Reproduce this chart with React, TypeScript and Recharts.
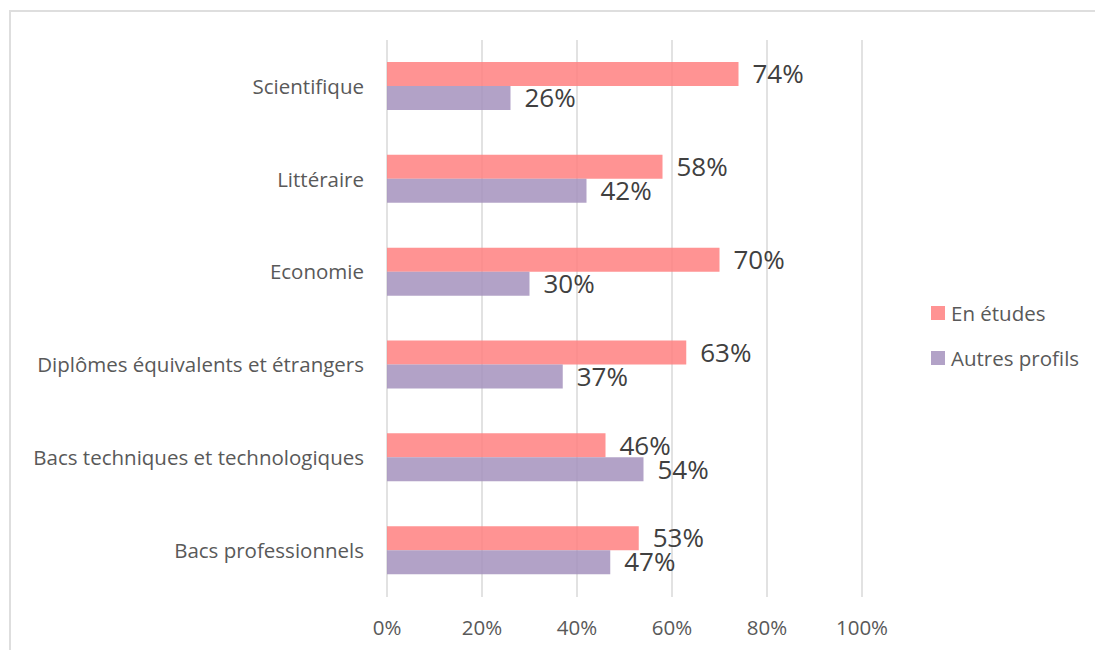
import { Bar, BarChart, CartesianGrid, LabelList, XAxis, YAxis } from "recharts";

const categories = [
  "Scientifique",
  "Littéraire",
  "Economie",
  "Diplômes équivalents et étrangers",
  "Bacs techniques et technologiques",
  "Bacs professionnels",
];
const enEtudes = [0.74, 0.58, 0.7, 0.63, 0.46, 0.53];
const autresProfils = [0.26, 0.42, 0.3, 0.37, 0.54, 0.47];
const xTicks = [0, 0.2, 0.4, 0.6, 0.8, 1];

const series = [
  { key: "enEtudes", label: "En études", color: "#FF8080", swatch: "#FF9393" },
  { key: "autresProfils", label: "Autres profils", color: "#A492BD", swatch: "#B2A2C7" },
];

const data = categories.map((name, i) => ({
  name,
  enEtudes: enEtudes[i],
  autresProfils: autresProfils[i],
}));

const font = "'Open Sans', sans-serif";
const pct = (v: any) => `${Math.round(Number(v) * 100)}%`;

export default function App() {
  return (
    <div style={{ position: "absolute", left: 0, top: 0, width: 1095, height: 650, overflow: "hidden", background: "#fff", fontFamily: font }}>
      <div style={{ position: "absolute", left: 9, top: 10, width: 1200, height: 700, border: "2px solid #DEDEDE" }} />
      <BarChart
        width={1095}
        height={650}
        data={data}
        layout="vertical"
        barGap={0}
        margin={{ top: 40, right: 233, bottom: 0, left: 0 }}
      >
        <CartesianGrid horizontal={false} stroke="#D9D9D9" strokeWidth={1.5} />
        <XAxis
          type="number"
          domain={[0, 1]}
          ticks={xTicks}
          tickFormatter={pct}
          axisLine={false}
          tickLine={false}
          tickSize={0}
          tickMargin={23}
          height={53}
          tick={{ fill: "#595959", fontSize: 20.5, fontFamily: font }}
        />
        <YAxis
          type="category"
          dataKey="name"
          width={387}
          axisLine={false}
          tickLine={false}
          tickSize={0}
          tickMargin={23}
          tick={{ fill: "#595959", fontSize: 20.5, fontFamily: font }}
        />
        {series.map((s) => (
          <Bar key={s.key} dataKey={s.key} name={s.label} fill={s.color} fillOpacity={0.85} barSize={24} isAnimationActive={false}>
            <LabelList dataKey={s.key} position="right" offset={14} formatter={pct} fill="#404040" fontSize={26} fontFamily={font} />
          </Bar>
        ))}
      </BarChart>
      <div style={{ position: "absolute", left: 931, top: 290, fontSize: 20.5, color: "#595959" }}>
        {series.map((s) => (
          <div key={s.key} style={{ display: "flex", alignItems: "center", height: 45 }}>
            <span style={{ width: 14, height: 14, background: s.swatch, marginRight: 6 }} />
            <span>{s.label}</span>
          </div>
        ))}
      </div>
    </div>
  );
}
